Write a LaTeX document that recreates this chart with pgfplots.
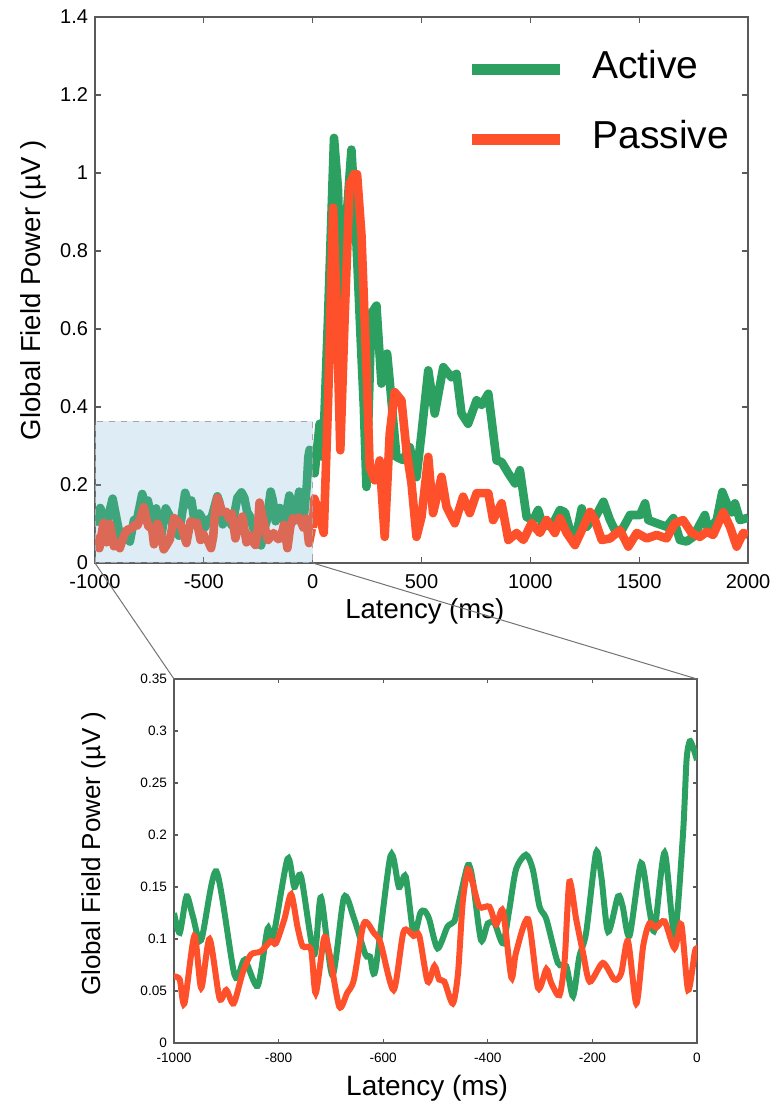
\documentclass[border=0pt]{standalone}
\usepackage{fontspec}
\setmainfont{Liberation Sans}
\usepackage{pgfplots}
\usepackage{pgfplotstable}
\pgfplotsset{compat=1.18}

\definecolor{actgreen}{RGB}{44,160,96}
\definecolor{pasred}{RGB}{254,80,42}
\definecolor{roiblue}{RGB}{120,180,215}
\definecolor{framegray}{RGB}{90,90,90}

% baseline (-1000..0 ms), shared by both panels
\pgfplotstableread{
t v
-1000 0.125
-989 0.106
-976 0.141
-964 0.122
-948 0.099
-919 0.165
-884 0.065
-865 0.080
-840 0.055
-821 0.110
-811 0.100
-783 0.177
-770 0.150
-757 0.160
-732 0.085
-719 0.140
-697 0.065
-675 0.140
-656 0.120
-634 0.085
-625 0.083
-615 0.070
-586 0.180
-570 0.150
-557 0.160
-542 0.105
-529 0.125
-521 0.127
-512 0.119
-496 0.091
-477 0.112
-464 0.117
-454 0.138
-438 0.171
-429 0.157
-413 0.099
-400 0.115
-387 0.115
-371 0.096
-359 0.128
-346 0.167
-327 0.181
-314 0.167
-301 0.131
-288 0.119
-266 0.077
-250 0.074
-237 0.045
-225 0.083
-212 0.106
-193 0.183
-183 0.160
-170 0.107
-151 0.141
-142 0.131
-129 0.103
-107 0.173
-91 0.128
-81 0.109
-62 0.183
-43 0.104
-27 0.199
-20 0.272
-14 0.290
-8 0.285
0 0.272
}\activepre

\pgfplotstableread{
t v
0 0.272
9 0.230
32 0.357
47 0.272
70 0.621
98 1.090
116 0.962
132 0.665
140 0.895
157 0.895
178 1.060
193 0.920
206 0.760
220 0.580
235 0.400
247 0.195
270 0.640
293 0.660
316 0.460
342 0.537
355 0.460
385 0.272
415 0.264
446 0.297
477 0.220
500 0.332
531 0.494
561 0.383
600 0.502
638 0.476
661 0.485
684 0.383
714 0.357
753 0.417
776 0.405
807 0.434
845 0.263
868 0.259
899 0.230
930 0.204
952 0.238
983 0.118
1013 0.110
1036 0.136
1059 0.093
1105 0.102
1136 0.136
1159 0.130
1182 0.084
1213 0.077
1236 0.140
1259 0.093
1282 0.110
1297 0.116
1336 0.157
1366 0.110
1389 0.084
1420 0.084
1458 0.123
1504 0.123
1527 0.153
1542 0.110
1580 0.102
1626 0.093
1657 0.115
1687 0.059
1718 0.055
1748 0.067
1802 0.123
1817 0.084
1856 0.110
1882 0.182
1909 0.144
1925 0.130
1940 0.153
1963 0.110
2000 0.116
}\activepost

\pgfplotstableread{
t v
-1000 0.064
-989 0.061
-980 0.038
-961 0.103
-948 0.053
-932 0.100
-913 0.043
-900 0.051
-886 0.038
-869 0.067
-853 0.085
-834 0.088
-815 0.098
-805 0.096
-789 0.119
-776 0.143
-764 0.112
-754 0.093
-738 0.090
-729 0.048
-713 0.101
-703 0.087
-684 0.035
-669 0.048
-656 0.061
-637 0.115
-618 0.106
-605 0.096
-580 0.051
-561 0.107
-542 0.103
-531 0.103
-515 0.059
-502 0.074
-493 0.061
-483 0.059
-467 0.038
-457 0.067
-448 0.135
-438 0.167
-429 0.154
-416 0.131
-397 0.131
-384 0.114
-371 0.127
-355 0.063
-346 0.087
-323 0.119
-304 0.053
-288 0.071
-279 0.058
-263 0.046
-253 0.080
-244 0.155
-231 0.119
-218 0.087
-205 0.059
-180 0.077
-158 0.061
-145 0.067
-132 0.098
-116 0.038
-103 0.093
-91 0.115
-78 0.111
-62 0.117
-43 0.091
-30 0.114
-17 0.051
-4 0.088
0 0.090
}\passivepre

\pgfplotstableread{
t v
0 0.090
8 0.165
25 0.136
51 0.077
71 0.417
94 0.911
109 0.673
127 0.289
147 0.630
170 0.971
190 0.997
204 0.997
224 0.843
247 0.502
262 0.246
285 0.212
308 0.263
331 0.067
354 0.332
377 0.438
408 0.417
431 0.289
454 0.204
477 0.067
500 0.118
531 0.272
553 0.128
592 0.221
615 0.144
653 0.102
691 0.170
722 0.128
753 0.179
807 0.179
829 0.110
868 0.153
899 0.059
937 0.077
968 0.059
1006 0.102
1044 0.077
1075 0.110
1113 0.077
1136 0.115
1167 0.077
1205 0.046
1244 0.093
1274 0.131
1297 0.110
1328 0.059
1366 0.063
1412 0.084
1450 0.042
1489 0.077
1535 0.063
1580 0.072
1626 0.063
1664 0.102
1702 0.110
1741 0.077
1779 0.067
1810 0.080
1840 0.072
1886 0.130
1917 0.093
1948 0.042
1978 0.077
2000 0.072
}\passivepost

\pgfplotsset{
  gfp/.style={
    scale only axis,
    axis line style={draw=framegray, line width=0.75pt},
    tick style={draw=framegray, line width=0.6pt},
    tick align=inside,
    /pgf/number format/assume math mode=true,
    /pgf/number format/1000 sep={},
    scaled ticks=false,
  }
}

\begin{document}
\begin{tikzpicture}
\useasboundingbox (-47.5pt,-274.5pt) rectangle (338.5pt,281.5pt);

% ---- full epoch ----
\begin{axis}[gfp, name=top,
  at={(0,0)}, anchor=south west,
  width=326.5pt, height=273pt,
  xmin=-1000, xmax=2000, ymin=0, ymax=1.4,
  xtick={-1000,-500,0,500,1000,1500,2000},
  ytick={0,0.2,0.4,0.6,0.8,1,1.2,1.4},
  major tick length=3pt,
  ticklabel style={font=\fontsize{10}{12}\selectfont},
  xticklabel style={yshift=-2pt},
  xlabel={Latency (ms)},
  ylabel={Global Field Power (µV )},
  label style={font=\fontsize{13.75}{16}\selectfont},
  xlabel style={at={(axis description cs:0.505,0)}, anchor=base, yshift=-28pt},
  ylabel style={at={(axis description cs:-0.0842,0.5)}, anchor=base},
  legend cell align=left,
  legend style={draw=none, fill=none, at={(0.568,0.94)}, anchor=north west,
    inner sep=0pt, row sep=21pt, column sep=13.5pt,
    font=\fontsize{19.5}{23}\selectfont,
    nodes={inner sep=0pt, text height=14pt, text depth=0pt}},
  legend image code/.code={\draw[#1, line width=5.5pt] (0pt,-2.7pt) -- (44pt,-2.7pt);},
]
\addplot[actgreen, line width=4.3pt, line join=round] table {\activepre};
\addlegendentry{Active}
\addplot[actgreen, line width=4.3pt, line join=round, forget plot] table {\activepost};
\addplot[pasred, line width=4.3pt, line join=round] table {\passivepre};
\addlegendentry{Passive}
\addplot[pasred, line width=4.3pt, line join=round, forget plot] table {\passivepost};
% highlighted baseline window
\addplot[draw=black!35, dashed, line width=0.7pt, fill=roiblue, fill opacity=0.25, forget plot]
  coordinates {(-1000,0) (-1000,0.363) (0,0.363) (0,0)} -- cycle;
\coordinate (zl) at (axis cs:-1000,0);
\coordinate (zr) at (axis cs:0,0);
\end{axis}

% ---- baseline zoom ----
\begin{axis}[gfp, name=bot,
  at={(39.5pt,-240pt)}, anchor=south west,
  width=261.5pt, height=182pt,
  xmin=-1000, xmax=0, ymin=0, ymax=0.35,
  xtick={-1000,-800,-600,-400,-200,0},
  ytick={0,0.05,0.1,0.15,0.2,0.25,0.3,0.35},
  major tick length=2pt,
  ticklabel style={font=\fontsize{6.8}{8}\selectfont},
  yticklabel style={/pgf/number format/fixed, /pgf/number format/precision=2},
  xticklabel style={yshift=-1.5pt},
  xlabel={Latency (ms)},
  ylabel={Global Field Power (µV )},
  xlabel style={font=\fontsize{14}{16}\selectfont, at={(axis description cs:0.484,0)}, anchor=base, yshift=-26pt},
  ylabel style={font=\fontsize{13}{15}\selectfont, at={(axis description cs:-0.1415,0.519)}, anchor=base},
]
\addplot[actgreen, line width=3pt, smooth, tension=0.45] table {\activepre};
\addplot[pasred, line width=3pt, smooth, tension=0.45] table {\passivepre};
\coordinate (bl) at (rel axis cs:0,1);
\coordinate (br) at (rel axis cs:1,1);
\end{axis}

\draw[black!55, line width=0.5pt] (zl) -- (bl);
\draw[black!55, line width=0.5pt] (zr) -- (br);
\end{tikzpicture}
\end{document}
